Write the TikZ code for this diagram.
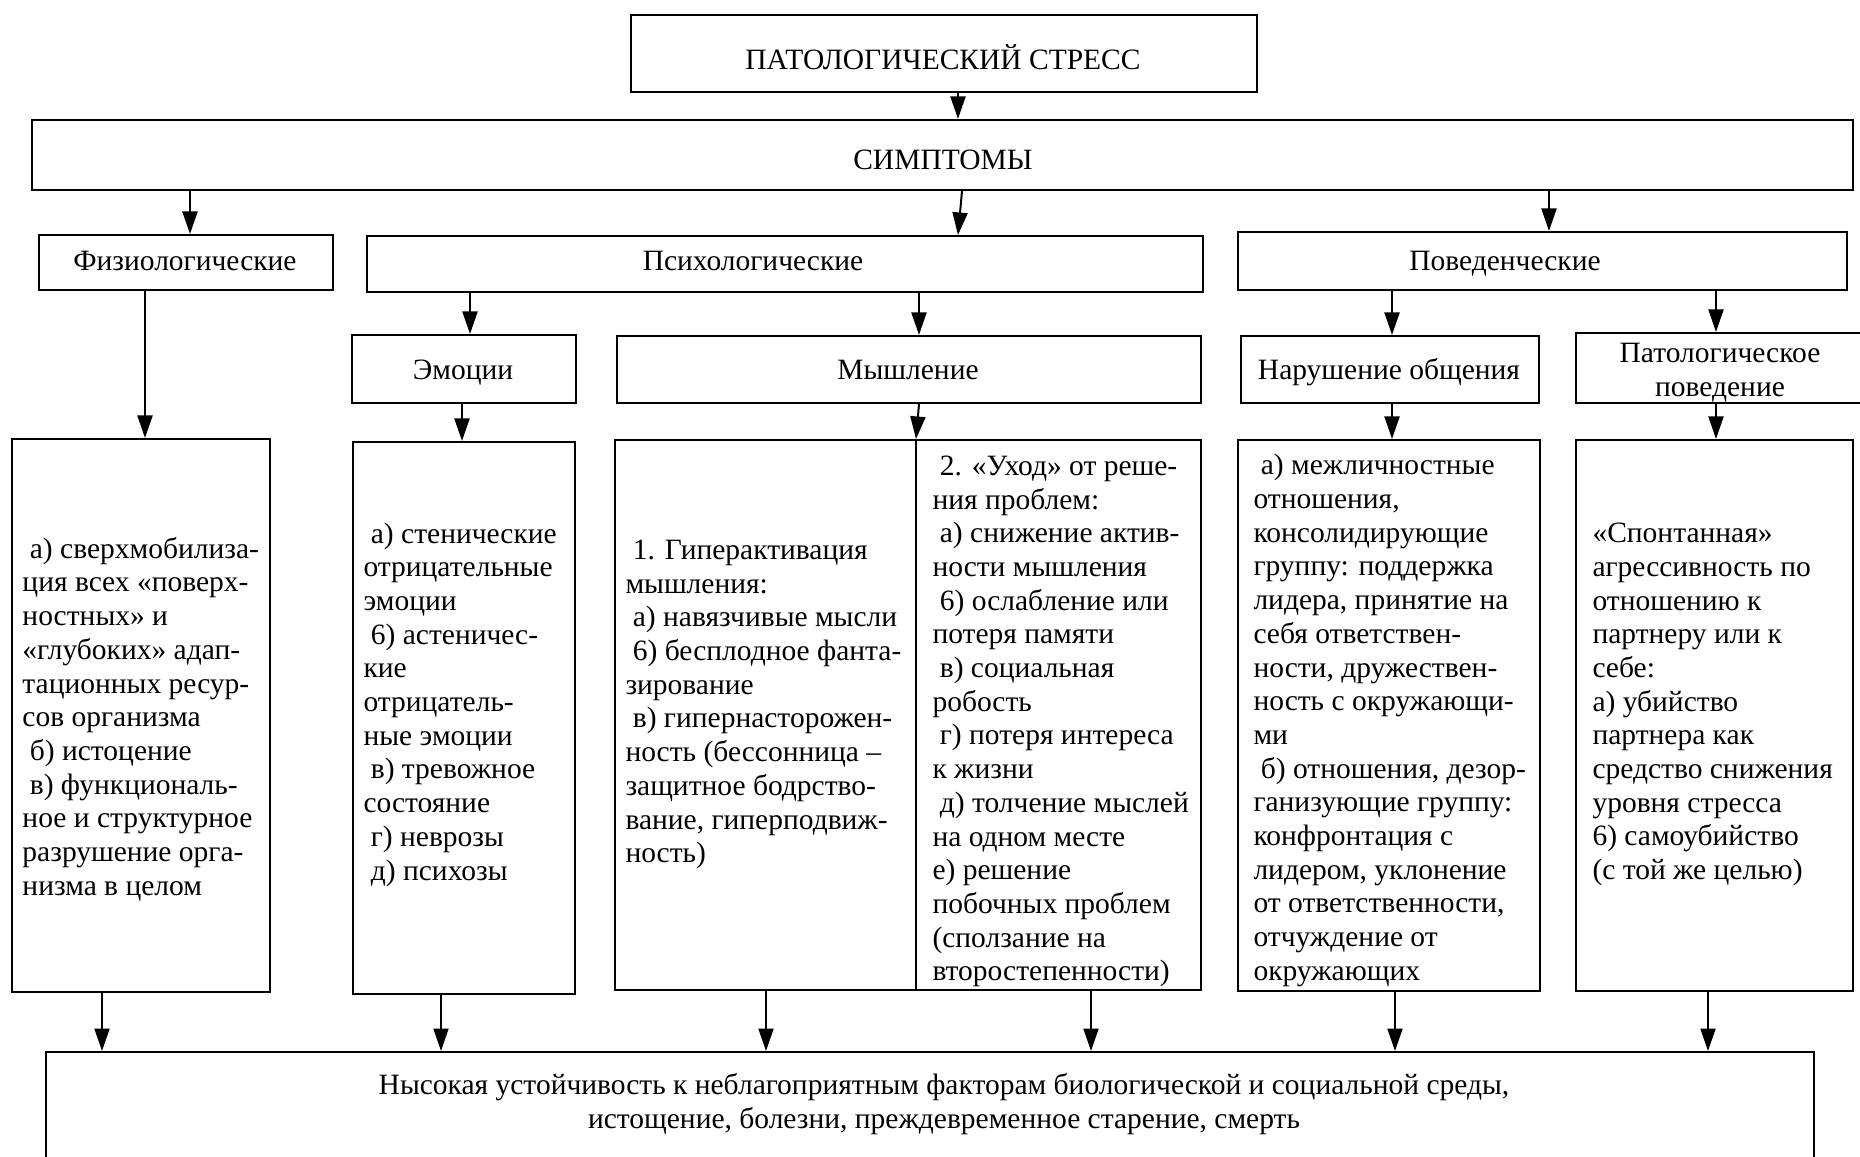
\documentclass[tikz,border=0pt]{standalone}
\usepackage{fontspec}
\setmainfont{Liberation Serif}
\usetikzlibrary{arrows.meta}
\newcommand{\ind}{\hspace*{0.25em}}
\begin{document}
\begin{tikzpicture}[x=0.4pt,y=-0.4pt,
  every node/.style={font=\fontsize{11.8}{13.48}\selectfont},
  bx/.style 2 args={draw, line width=0.8pt, inner sep=0pt, anchor=north west,
    minimum width=#1*0.4pt, minimum height=#2*0.4pt},
  lbl/.style={inner sep=0pt, align=center},
  txt/.style={inner sep=0pt, anchor=west, align=left},
  arr/.style={line width=0.8pt, -{Triangle[length=9pt,width=6pt]}},
  ln/.style={line width=0.8pt}]
\useasboundingbox (0,0) rectangle (1860,1157);
% x positions for connectors
\foreach \n/\v in {c958/958,c962/962,c190/190,c1549/1549,c145/145,c470/470,c462/462,
  c919/919,c916/916,c1392/1392,c1716/1716,c102/102,c441/441,c766/766,c1091/1091,c1395/1395,c1708/1708}
  {\coordinate (\n) at (\v,0);}
% top levels
\node[bx={626}{77}] (top) at (630,14) {};
\node[bx={1821}{70}] (simp) at (31,119) {};
\node[bx={294}{55}] (fiz) at (38,234) {};
\node[bx={836}{56}] (psy) at (366,235) {};
\node[bx={609}{58}] (pov) at (1237,231) {};
\node[bx={224}{68}] (emo) at (351,334) {};
\node[bx={584}{67}] (mysh) at (616,335) {};
\node[bx={298}{67}] (nar) at (1240,335) {};
\node[bx={290}{70}] (pat) at (1575,332) {};
\node[lbl] (topt) at (943,57) {ПАТОЛОГИЧЕСКИЙ СТРЕСС};
\node[lbl] (simpt) at (943,160) {СИМПТОМЫ};
\node[lbl] (fizt0) at (185,260.5) {Физиологические};
\node[lbl] (psyt) at (753,260.5) {Психологические};
\node[lbl] (povt) at (1505,263.5) {Поведенческие};
\node[lbl] (emot0) at (463,372.5) {Эмоции};
\node[lbl] (mysht) at (908,369.5) {Мышление};
\node[lbl] (nart0) at (1389,372) {Нарушение общения};
\node[lbl] (patt0) at (1720,373) {Патологическое\\поведение};
% detail boxes
\node[bx={258}{553}] (fizd) at (11,438) {};
\node[bx={222}{552}] (emod) at (352,441) {};
\node[bx={586}{550}] (myshd) at (614,439) {};
\node[bx={302}{551}] (nard) at (1237,439) {};
\node[bx={277}{551}] (patd) at (1575,439) {};
\node[bx={1768}{160}] (bot) at (45,1051) {};
\draw[ln] (myshd.north -| c916) -- (myshd.south -| c916);
% detail texts
\node[txt] (fizt) at (22,719) {\ind а) сверхмобилиза-\\
ция всех «поверх-\\
ностных» и\\
«глубоких» адап-\\
тационных ресур-\\
сов организма\\
\ind б) истоцение\\
\ind в) функциональ-\\
ное и структурное\\
разрушение орга-\\
низма в целом};
\node[txt] (emot) at (363,704.5) {\ind а) стенические\\
отрицательные\\
эмоции\\
\ind 6) астеничес-\\
кие\\
отрицатель-\\
ные эмоции\\
\ind в) тревожное\\
состояние\\
\ind г) неврозы\\
\ind д) психозы};
\node[txt] (myshl) at (625,704.5) {\ind 1. Гиперактивация\\
мышления:\\
\ind а) навязчивые мысли\\
\ind 6) бесплодное фанта-\\
зирование\\
\ind в) гипернасторожен-\\
ность (бессонница –\\
защитное бодрство-\\
вание, гиперподвиж-\\
ность)};
\node[txt] (myshr) at (932,721.5) {\ind 2. «Уход» от реше-\\
ния проблем:\\
\ind а) снижение актив-\\
ности мышления\\
\ind 6) ослабление или\\
потеря памяти\\
\ind в) социальная\\
робость\\
\ind г) потеря интереса\\
к жизни\\
\ind д) толчение мыслей\\
на одном месте\\
е) решение\\
побочных проблем\\
(сползание на\\
второстепенности)};
\node[txt] (nart) at (1253,720.5) {\ind а) межличностные\\
отношения,\\
консолидирующие\\
группу: поддержка\\
лидера, принятие на\\
себя ответствен-\\
ности, дружествен-\\
ность с окружающи-\\
ми\\
\ind б) отношения, дезор-\\
ганизующие группу:\\
конфронтация с\\
лидером, уклонение\\
от ответственности,\\
отчуждение от\\
окружающих};
\node[txt] (patt) at (1592,704.5) {«Спонтанная»\\
агрессивность по\\
отношению к\\
партнеру или к\\
себе:\\
а) убийство\\
партнера как\\
средство снижения\\
уровня стресса\\
6) самоубийство\\
(с той же целью)};
\node[lbl] (bott) at (944,1104) {Нысокая устойчивость к неблагоприятным факторам биологической и социальной среды,\\
истощение, болезни, преждевременное старение, смерть};
% connectors
\draw[arr] (top.south -| c958) -- (simp.north -| c958);
\draw[arr] (simp.south -| c190) -- (fiz.north -| c190);
\draw[arr] (simp.south -| c962) -- (psy.north -| c958);
\draw[arr] (simp.south -| c1549) -- (pov.north -| c1549);
\draw[arr] (fiz.south -| c145) -- (fizd.north -| c145);
\draw[arr] (psy.south -| c470) -- (emo.north -| c470);
\draw[arr] (psy.south -| c919) -- (mysh.north -| c919);
\draw[arr] (pov.south -| c1392) -- (nar.north -| c1392);
\draw[arr] (pov.south -| c1716) -- (pat.north -| c1716);
\draw[arr] (emo.south -| c462) -- (emod.north -| c462);
\draw[arr] (mysh.south -| c919) -- (myshd.north -| c916);
\draw[arr] (nar.south -| c1392) -- (nard.north -| c1392);
\draw[arr] (pat.south -| c1716) -- (patd.north -| c1716);
\draw[arr] (fizd.south -| c102) -- (bot.north -| c102);
\draw[arr] (emod.south -| c441) -- (bot.north -| c441);
\draw[arr] (myshd.south -| c766) -- (bot.north -| c766);
\draw[arr] (myshd.south -| c1091) -- (bot.north -| c1091);
\draw[arr] (nard.south -| c1395) -- (bot.north -| c1395);
\draw[arr] (patd.south -| c1708) -- (bot.north -| c1708);
\end{tikzpicture}
\end{document}
